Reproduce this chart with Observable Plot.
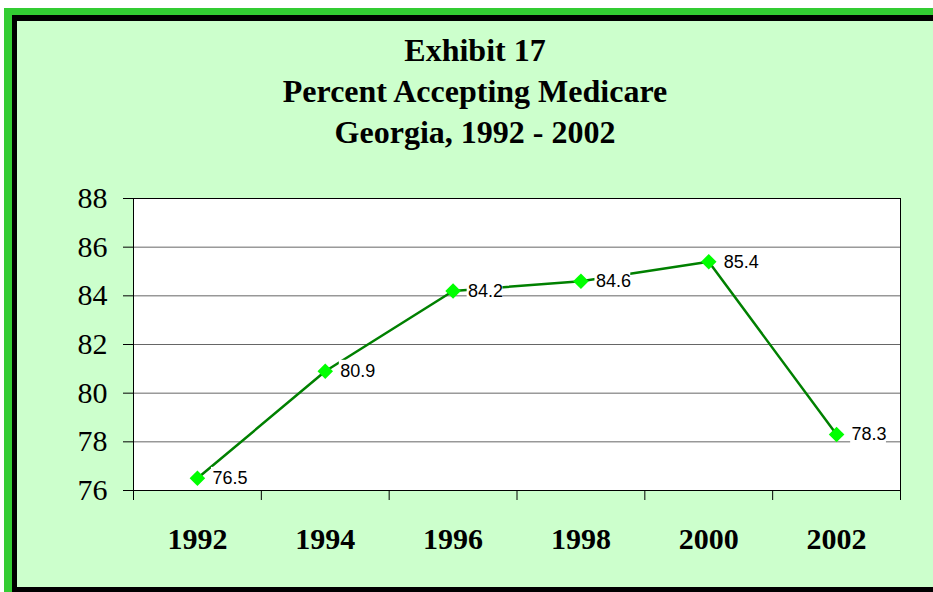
<!DOCTYPE html>
<html>
<head>
<meta charset="utf-8">
<script src="https://cdn.jsdelivr.net/npm/d3@7"></script>
<script src="https://cdn.jsdelivr.net/npm/@observablehq/plot@0.6"></script>
<style>
  html, body { margin: 0; padding: 0; background: #fff; width: 933px; height: 592px; overflow: hidden; }
  .green { position: absolute; left: 4px; top: 8px; width: 929px; height: 584px; background: #33CC33; }
  .black { position: absolute; left: 12px; top: 15px; width: 921px; height: 577px; background: #000; }
  .panel { position: absolute; left: 17px; top: 21px; width: 916px; height: 566px; background: #CCFFCC; }
  .title { position: absolute; left: 0; top: 9px; width: 916px; text-align: center;
           font-family: "Liberation Serif", "Times New Roman", serif; font-weight: bold;
           font-size: 32px; line-height: 41px; color: #000; }
  #chart { position: absolute; left: 0; top: 150px; }
  #chart svg { display: block; }
</style>
</head>
<body>
<div class="green"></div>
<div class="black"></div>
<div class="panel">
  <div class="title">Exhibit 17<br>Percent Accepting Medicare<br>Georgia, 1992 - 2002</div>
  <div id="chart"></div>
</div>
<script>
const years = [1992, 1994, 1996, 1998, 2000, 2002];
const percents = [76.5, 80.9, 84.2, 84.6, 85.4, 78.3];
const yTicks = [76, 78, 80, 82, 84, 86, 88];
const gridValues = [78, 80, 82, 84, 86];
const xBoundaries = [1991, 1993, 1995, 1997, 1999, 2001, 2003];

const data = years.map((year, i) => ({year, value: percents[i]}));

const chart = Plot.plot({
  width: 916,
  height: 416,
  marginLeft: 116,
  marginRight: 33,
  marginTop: 27,
  marginBottom: 97,
  style: {background: "transparent", color: "#000", overflow: "visible"},
  x: {domain: [1991, 2003], axis: null, label: null},
  y: {domain: [76, 88], axis: null, label: null},
  marks: [
    Plot.frame({fill: "#fff", stroke: "none"}),
    Plot.ruleY(gridValues, {stroke: "#666", strokeWidth: 1}),
    Plot.frame({stroke: "#000", strokeWidth: 1}),
    Plot.axisY({ticks: yTicks, tickSize: 10, tickPadding: 16, fontSize: 30, label: null,
      fontFamily: "Liberation Serif", tickFormat: d => String(d)}),
    Plot.axisX({ticks: xBoundaries, tickSize: 10, label: null, tickFormat: () => ""}),
    Plot.axisX({ticks: years, tickSize: 0, tickPadding: 37, fontSize: 30, fontWeight: "bold", label: null,
      fontFamily: "Liberation Serif", tickFormat: d => String(d)}),
    Plot.line(data, {x: "year", y: "value", stroke: "#008000", strokeWidth: 2.5}),
    Plot.dot(data, {x: "year", y: "value", symbol: "diamond2", r: 7, fill: "#00FF00", stroke: "none"}),
    Plot.rect(data, {x1: d => d.year + 0.22, x2: d => d.year + 0.78,
      y1: d => d.value - 0.5, y2: d => d.value + 0.45, fill: "#fff"}),
    Plot.text(data, {x: "year", y: "value", text: d => d.value.toFixed(1), dx: 15, textAnchor: "start",
      fontSize: 18, fontFamily: "Liberation Sans", fill: "#000"})
  ]
});
document.getElementById("chart").appendChild(chart);
</script>
</body>
</html>
